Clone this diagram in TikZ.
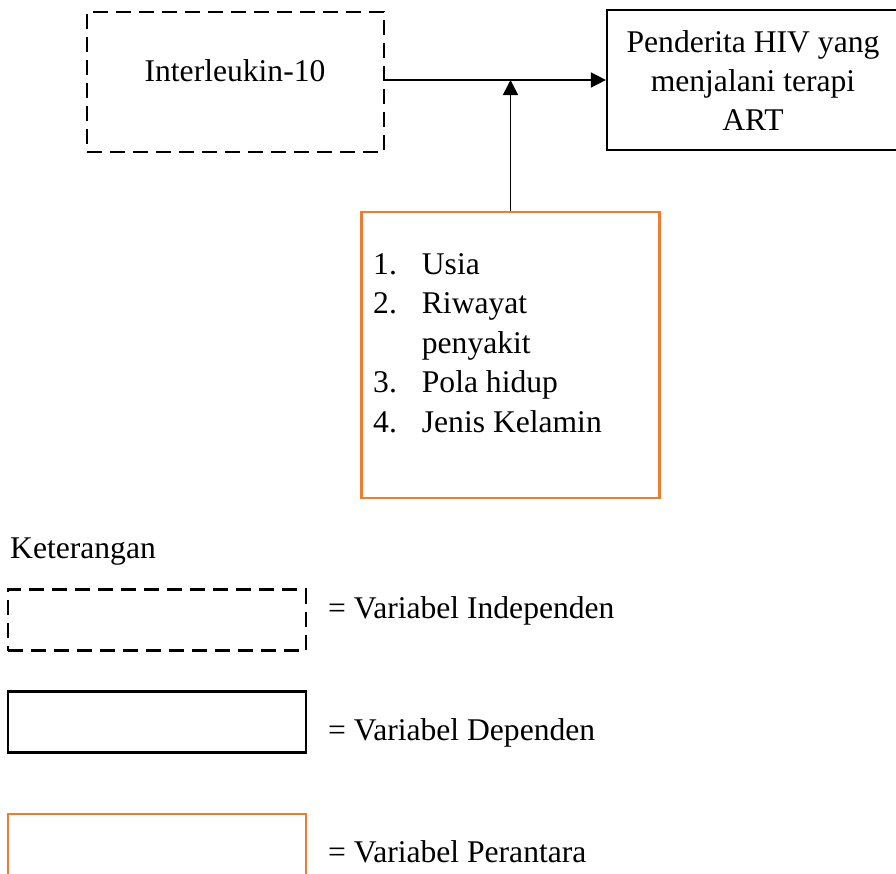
\documentclass[tikz,border=0pt]{standalone}
\usepackage{fontspec}
\setmainfont{Liberation Serif}
\usetikzlibrary{arrows.meta}
\definecolor{orng}{HTML}{ED7D31}
\tikzset{
  txt/.style={font=\fontsize{31.6}{39.5}\selectfont, inner sep=0pt},
  indepbox/.style={draw, dash pattern=on 15pt off 8pt, line width=2.5pt, inner sep=0pt},
  depbox/.style={draw, line width=2.2pt, inner sep=0pt},
  perbox/.style={draw=orng, line width=2.3pt, inner sep=0pt},
  arr/.style={line width=1.5pt, -{Triangle[length=15pt,width=15pt]}}
}
\begin{document}
\begin{tikzpicture}[x=1pt,y=-1pt]
\useasboundingbox (0,0) rectangle (896,873);
% main boxes
\node[indepbox, minimum width=297pt, minimum height=140pt] (ibox) at (235.5,82) {};
\node[depbox, minimum width=294pt, minimum height=140pt] (pbox) at (754,80) {};
\node[perbox, minimum width=298pt, minimum height=286pt] (obox) at (510.5,355) {};
% texts
\node[txt, anchor=base] (itxt) at (235,81) {Interleukin-10};
\node[txt, anchor=base] (p1) at (753,52) {Penderita HIV yang};
\node[txt, anchor=base] (p2) at (753,91) {menjalani terapi};
\node[txt, anchor=base] (p3) at (753,130) {ART};
\node[txt, anchor=base west] (list) at (373,274) {\begin{tabular}[t]{@{}l@{}l@{}}
\makebox[48.7pt][l]{1.}&Usia\\
\makebox[48.7pt][l]{2.}&Riwayat\\
&penyakit\\
\makebox[48.7pt][l]{3.}&Pola hidup\\
\makebox[48.7pt][l]{4.}&Jenis Kelamin
\end{tabular}};
% connectors
\coordinate (jn) at (510.5,80);
\draw[arr] (ibox.east |- jn) -- (pbox.west);
\draw[arr] (obox.north) -- (jn);
% legend
\node[txt, anchor=base west] (ket) at (10,558) {Keterangan};
\node[indepbox, minimum width=298pt, minimum height=61pt] (l1) at (157,620) {};
\node[depbox, minimum width=298pt, minimum height=61pt] (l2) at (157,722) {};
\node[perbox, minimum width=298pt, minimum height=68pt] (l3) at (157,848) {};
\node[txt, anchor=base west] (t1) at (328,618) {= Variabel Independen};
\node[txt, anchor=base west] (t2) at (328,740) {= Variabel Dependen};
\node[txt, anchor=base west] (t3) at (328,862) {= Variabel Perantara};
\end{tikzpicture}
\end{document}
